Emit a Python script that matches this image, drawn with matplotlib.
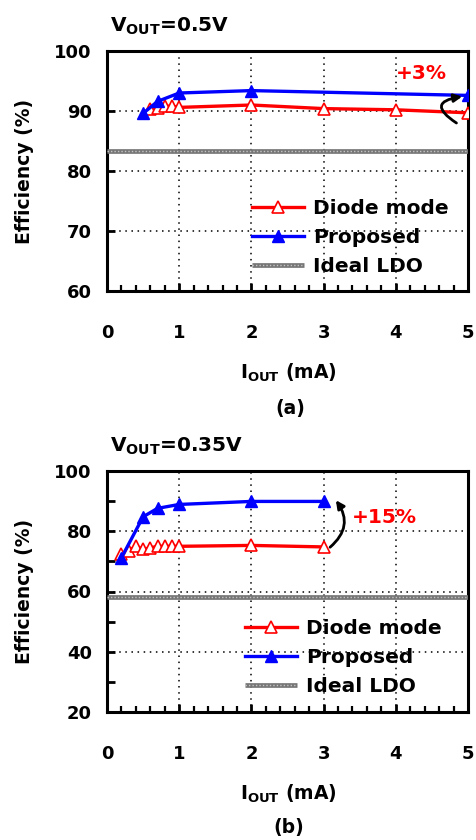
import matplotlib
matplotlib.use("Agg")
import matplotlib.pyplot as plt
from matplotlib.lines import Line2D
from matplotlib.legend_handler import HandlerTuple
from matplotlib.ticker import MultipleLocator

# ---- data (a) VOUT = 0.5 V ----
diode_a_x = [0.6, 0.7, 0.8, 0.9, 1.0, 2, 3, 4, 5]
diode_a_y = [90.3, 90.5, 90.8, 90.8, 90.6, 91.0, 90.4, 90.2, 89.7]
prop_a_x = [0.5, 0.7, 1.0, 2, 5]
prop_a_y = [89.6, 91.6, 93.0, 93.4, 92.6]
ideal_a = 83.3

# ---- data (b) VOUT = 0.35 V ----
diode_b_x = [0.2, 0.3, 0.4, 0.5, 0.6, 0.7, 0.8, 0.9, 1.0, 2, 3]
diode_b_y = [72.5, 73.5, 75.0, 74.0, 74.5, 75.0, 75.0, 75.0, 75.0, 75.3, 74.8]
prop_b_x = [0.2, 0.5, 0.7, 1.0, 2, 3]
prop_b_y = [71.2, 84.8, 87.6, 88.9, 89.9, 89.9]
ideal_b = 58.3

x_ticks = [0, 1, 2, 3, 4, 5]
labels = ["Diode mode", "Proposed", "Ideal LDO"]

plt.rcParams['font.family'] = ['DejaVu Sans']
plt.rcParams['font.weight'] = 'bold'
plt.rcParams['mathtext.fontset'] = 'dejavusans'
plt.rcParams['mathtext.default'] = 'bf'

W, H = 477, 840
fig = plt.figure(figsize=(W / 100, H / 100), dpi=100)

def px_ax(l, t, r, b):
    return fig.add_axes([l / W, 1 - b / H, (r - l) / W, (b - t) / H])

ax_a = px_ax(107, 51, 468, 291)
ax_b = px_ax(107, 471, 468, 712)

RED = '#ff0000'
BLUE = '#0000ff'
GRAY = '#767676'
LGRAY = '#c4c4c4'

def draw(ax, dx, dy, pxs, pys, ideal, ylim, ymaj, ymin, leg_anchor):
    ax.plot([0, 5], [ideal, ideal], color=GRAY, lw=3.4, solid_capstyle='butt', zorder=3)
    ax.plot([0, 5], [ideal, ideal], color=LGRAY, lw=1.0,
            linestyle=(0, (1, 1.5)), zorder=3.1)
    ax.plot(dx, dy, color=RED, lw=2.4, marker='^', ms=9, mfc='white',
            mec=RED, mew=1.2, zorder=4)
    ax.plot(pxs, pys, color=BLUE, lw=2.4, marker='^', ms=9, mfc=BLUE,
            mec=BLUE, zorder=5)
    ax.set_xlim(0, 5)
    ax.set_ylim(*ylim)
    ax.xaxis.set_major_locator(MultipleLocator(1))
    ax.xaxis.set_minor_locator(MultipleLocator(0.2))
    ax.yaxis.set_major_locator(MultipleLocator(ymaj))
    if ymin:
        ax.yaxis.set_minor_locator(MultipleLocator(ymin))
    else:
        ax.yaxis.set_minor_locator(plt.NullLocator())
    ax.set_xticks(x_ticks)
    ax.grid(True, which='major', color='black', lw=1.1, linestyle=(0, (1, 3)))
    for s in ax.spines.values():
        s.set_linewidth(2.2)
    ax.tick_params(axis='x', which='major', direction='in', length=6, width=2,
                   pad=24, labelsize=13)
    ax.tick_params(axis='x', which='minor', direction='in', length=4, width=1.6)
    ax.tick_params(axis='y', which='both', direction='in', length=6, width=2,
                   pad=11, labelsize=13)
    for t in ax.get_xticklabels() + ax.get_yticklabels():
        t.set_fontweight('bold')

    h1 = Line2D([], [], color=RED, lw=2.4, marker='^', ms=9, mfc='white', mec=RED, mew=1.2)
    h2 = Line2D([], [], color=BLUE, lw=2.4, marker='^', ms=9, mfc=BLUE, mec=BLUE)
    h3a = Line2D([], [], color=GRAY, lw=3.4, solid_capstyle='butt')
    h3b = Line2D([], [], color=LGRAY, lw=1.0, linestyle=(0, (1, 1.5)))
    leg = ax.legend([h1, h2, (h3a, h3b)], labels,
                    handler_map={tuple: HandlerTuple(ndivide=1, pad=0)},
                    loc='upper left', bbox_to_anchor=leg_anchor, frameon=False,
                    borderpad=0, borderaxespad=0, handlelength=2.6,
                    handletextpad=0.45, labelspacing=0.5,
                    prop={'weight': 'bold', 'size': 14.5})
    leg.set_zorder(6)

draw(ax_a, diode_a_x, diode_a_y, prop_a_x, prop_a_y, ideal_a, (60, 100), 10, None,
     ((252 - 107) / 361, (291 - 199) / 240))
draw(ax_b, diode_b_x, diode_b_y, prop_b_x, prop_b_y, ideal_b, (20, 100), 20, 10,
     ((245 - 107) / 361, (712 - 619) / 241))

# annotations
ax_a.text(4.0, 96.3, '+3%', color=RED, fontsize=14.5, fontweight='bold',
          ha='left', va='center', zorder=7)
ax_a.annotate('', xy=(4.92, 92.4), xytext=(4.84, 88.0),
              arrowprops=dict(arrowstyle='-|>', color='black', lw=2.0,
                              mutation_scale=12,
                              connectionstyle='arc3,rad=-1.3',
                              shrinkA=0, shrinkB=0), zorder=7)

ax_b.text(3.39, 84.7, '+15%', color=RED, fontsize=14.5, fontweight='bold',
          ha='left', va='center', zorder=7)
ax_b.annotate('', xy=(3.17, 90.3), xytext=(3.09, 74.7),
              arrowprops=dict(arrowstyle='-|>', color='black', lw=2.0,
                              mutation_scale=12,
                              connectionstyle='arc3,rad=0.45',
                              shrinkA=0, shrinkB=0), zorder=7)

def ftext(x, y, s, **kw):
    fig.text(x / W, 1 - y / H, s, **kw)

# titles
ftext(110, 26, r'$V_{OUT}$=0.5V', fontsize=14.5, fontweight='bold', ha='left', va='center')
ftext(110, 446, r'$V_{OUT}$=0.35V', fontsize=14.5, fontweight='bold', ha='left', va='center')
# y labels
ftext(25, 171, 'Efficiency (%)', fontsize=13.5, fontweight='bold', rotation=90,
      ha='center', va='center')
ftext(25, 591, 'Efficiency (%)', fontsize=13.5, fontweight='bold', rotation=90,
      ha='center', va='center')
# x labels
ftext(288, 373, r'$I_{OUT}$ (mA)', fontsize=13.5, fontweight='bold', ha='center', va='center')
ftext(288, 794, r'$I_{OUT}$ (mA)', fontsize=13.5, fontweight='bold', ha='center', va='center')
# panel labels
ftext(290, 408, '(a)', fontsize=13.5, fontweight='bold', ha='center', va='center')
ftext(289, 828, '(b)', fontsize=13.5, fontweight='bold', ha='center', va='center')

fig.savefig('out.png', dpi=100)
